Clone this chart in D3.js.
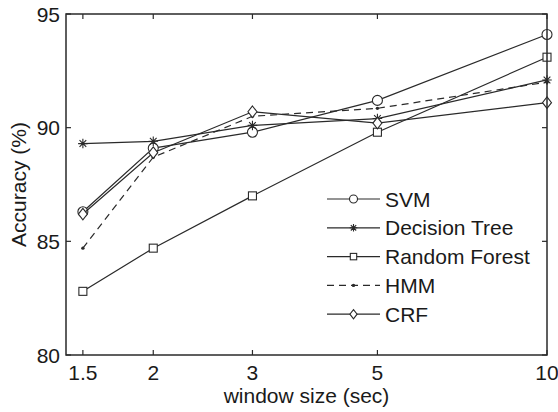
<!DOCTYPE html>
<html>
<head>
<meta charset="utf-8">
<script src="https://cdn.jsdelivr.net/npm/d3@7"></script>
<style>
  html, body { margin: 0; padding: 0; background: #fff; }
  svg { display: block; font-family: "Liberation Sans", Arial, sans-serif; }
</style>
</head>
<body>
<svg id="chart" width="558" height="412"></svg>
<script>
// ---- data ----
const windowSizes = [1.5, 2, 3, 5, 10];
const yTicks = [80, 85, 90, 95];

const svmAcc    = [86.3, 89.1, 89.8, 91.2, 94.1];
const dtreeAcc  = [89.3, 89.4, 90.1, 90.4, 92.1];
const rforestAcc = [82.8, 84.7, 87.0, 89.8, 93.1];
const hmmAcc    = [84.7, 88.7, 90.5, 90.85, 92.0];
const crfAcc    = [86.2, 88.9, 90.7, 90.2, 91.1];

const seriesNames = ["SVM", "Decision Tree", "Random Forest", "HMM", "CRF"];
const seriesValues = [svmAcc, dtreeAcc, rforestAcc, hmmAcc, crfAcc];
const seriesMarkers = ["circle", "star", "square", "dot", "diamond"];
const seriesDash = [null, null, null, "7,5", null];

// ---- layout ----
const ink = "#2a2a2a";
const margin = { left: 66, right: 11, top: 14, bottom: 57 };
const W = 558, H = 412;
const svg = d3.select("#chart");

const x = d3.scaleLog()
  .domain([1.4, 10])
  .range([margin.left, W - margin.right]);

const y = d3.scaleLinear()
  .domain([80, 95])
  .range([H - margin.bottom, margin.top]);

// markers
function drawMarker(g, type, cx, cy, s) {
  if (type === "circle") {
    g.append("circle").attr("cx", cx).attr("cy", cy).attr("r", s)
      .attr("fill", "#fff").attr("stroke", ink).attr("stroke-width", 1.1);
  } else if (type === "square") {
    g.append("rect").attr("x", cx - s * 0.8).attr("y", cy - s * 0.8)
      .attr("width", s * 1.6).attr("height", s * 1.6)
      .attr("fill", "#fff").attr("stroke", ink).attr("stroke-width", 1.1);
  } else if (type === "diamond") {
    const d = `M${cx},${cy - s * 1.15}L${cx + s * 0.9},${cy}L${cx},${cy + s * 1.15}L${cx - s * 0.9},${cy}Z`;
    g.append("path").attr("d", d)
      .attr("fill", "#fff").attr("stroke", ink).attr("stroke-width", 1.1);
  } else if (type === "star") {
    const r = s * 0.95;
    let d = "";
    for (let k = 0; k < 4; k++) {
      const a = k * Math.PI / 4;
      d += `M${cx - r * Math.cos(a)},${cy - r * Math.sin(a)}L${cx + r * Math.cos(a)},${cy + r * Math.sin(a)}`;
    }
    g.append("path").attr("d", d).attr("stroke", ink).attr("stroke-width", 1.1);
  } else if (type === "dot") {
    g.append("circle").attr("cx", cx).attr("cy", cy).attr("r", 1.7).attr("fill", ink);
  }
}

// ---- series ----
const line = d3.line()
  .x((d, i) => x(windowSizes[i]))
  .y(d => y(d));

seriesValues.forEach((vals, si) => {
  const g = svg.append("g");
  g.append("path")
    .attr("d", line(vals))
    .attr("fill", "none")
    .attr("stroke", ink)
    .attr("stroke-width", 1.2)
    .attr("stroke-dasharray", seriesDash[si]);
  vals.forEach((v, i) => drawMarker(g, seriesMarkers[si], x(windowSizes[i]), y(v), 5));
});

// ---- axes box with inward ticks ----
const tickLen = 5;
const axG = svg.append("g");
axG.append("rect")
  .attr("x", margin.left).attr("y", margin.top)
  .attr("width", W - margin.right - margin.left)
  .attr("height", H - margin.bottom - margin.top)
  .attr("fill", "none").attr("stroke", ink).attr("stroke-width", 1.5);

windowSizes.forEach(t => {
  axG.append("line").attr("x1", x(t)).attr("x2", x(t))
    .attr("y1", y(80)).attr("y2", y(80) - tickLen).attr("stroke", ink).attr("stroke-width", 1.2);
  axG.append("line").attr("x1", x(t)).attr("x2", x(t))
    .attr("y1", y(95)).attr("y2", y(95) + tickLen).attr("stroke", ink).attr("stroke-width", 1.2);
  axG.append("text").attr("x", x(t)).attr("y", 380)
    .attr("text-anchor", "middle").attr("font-size", 21).attr("fill", "#1a1a1a")
    .text(d3.format("")(t));
});

yTicks.forEach(t => {
  axG.append("line").attr("x1", x(1.4)).attr("x2", x(1.4) + tickLen)
    .attr("y1", y(t)).attr("y2", y(t)).attr("stroke", ink).attr("stroke-width", 1.2);
  axG.append("line").attr("x1", x(10)).attr("x2", x(10) - tickLen)
    .attr("y1", y(t)).attr("y2", y(t)).attr("stroke", ink).attr("stroke-width", 1.2);
  axG.append("text").attr("x", margin.left - 6).attr("y", y(t) + 7.5)
    .attr("text-anchor", "end").attr("font-size", 21).attr("fill", "#1a1a1a")
    .text(t);
});

// axis labels
svg.append("text")
  .attr("x", (margin.left + W - margin.right) / 2).attr("y", 403)
  .attr("text-anchor", "middle").attr("font-size", 21).attr("fill", "#1a1a1a")
  .text("window size (sec)");

svg.append("text")
  .attr("transform", `translate(26,${(margin.top + H - margin.bottom) / 2}) rotate(-90)`)
  .attr("text-anchor", "middle").attr("font-size", 21).attr("fill", "#1a1a1a")
  .text("Accuracy (%)");

// ---- legend ----
const leg = svg.append("g");
seriesNames.forEach((name, i) => {
  const cy = 199 + i * 28.8;
  leg.append("line").attr("x1", 327).attr("x2", 380).attr("y1", cy).attr("y2", cy)
    .attr("stroke", ink).attr("stroke-width", 1.2).attr("stroke-dasharray", seriesDash[i]);
  drawMarker(leg, seriesMarkers[i], 353.5, cy, 4);
  leg.append("text").attr("x", 385).attr("y", cy + 7.5)
    .attr("font-size", 21).attr("fill", "#1a1a1a").text(name);
});
</script>
</body>
</html>
